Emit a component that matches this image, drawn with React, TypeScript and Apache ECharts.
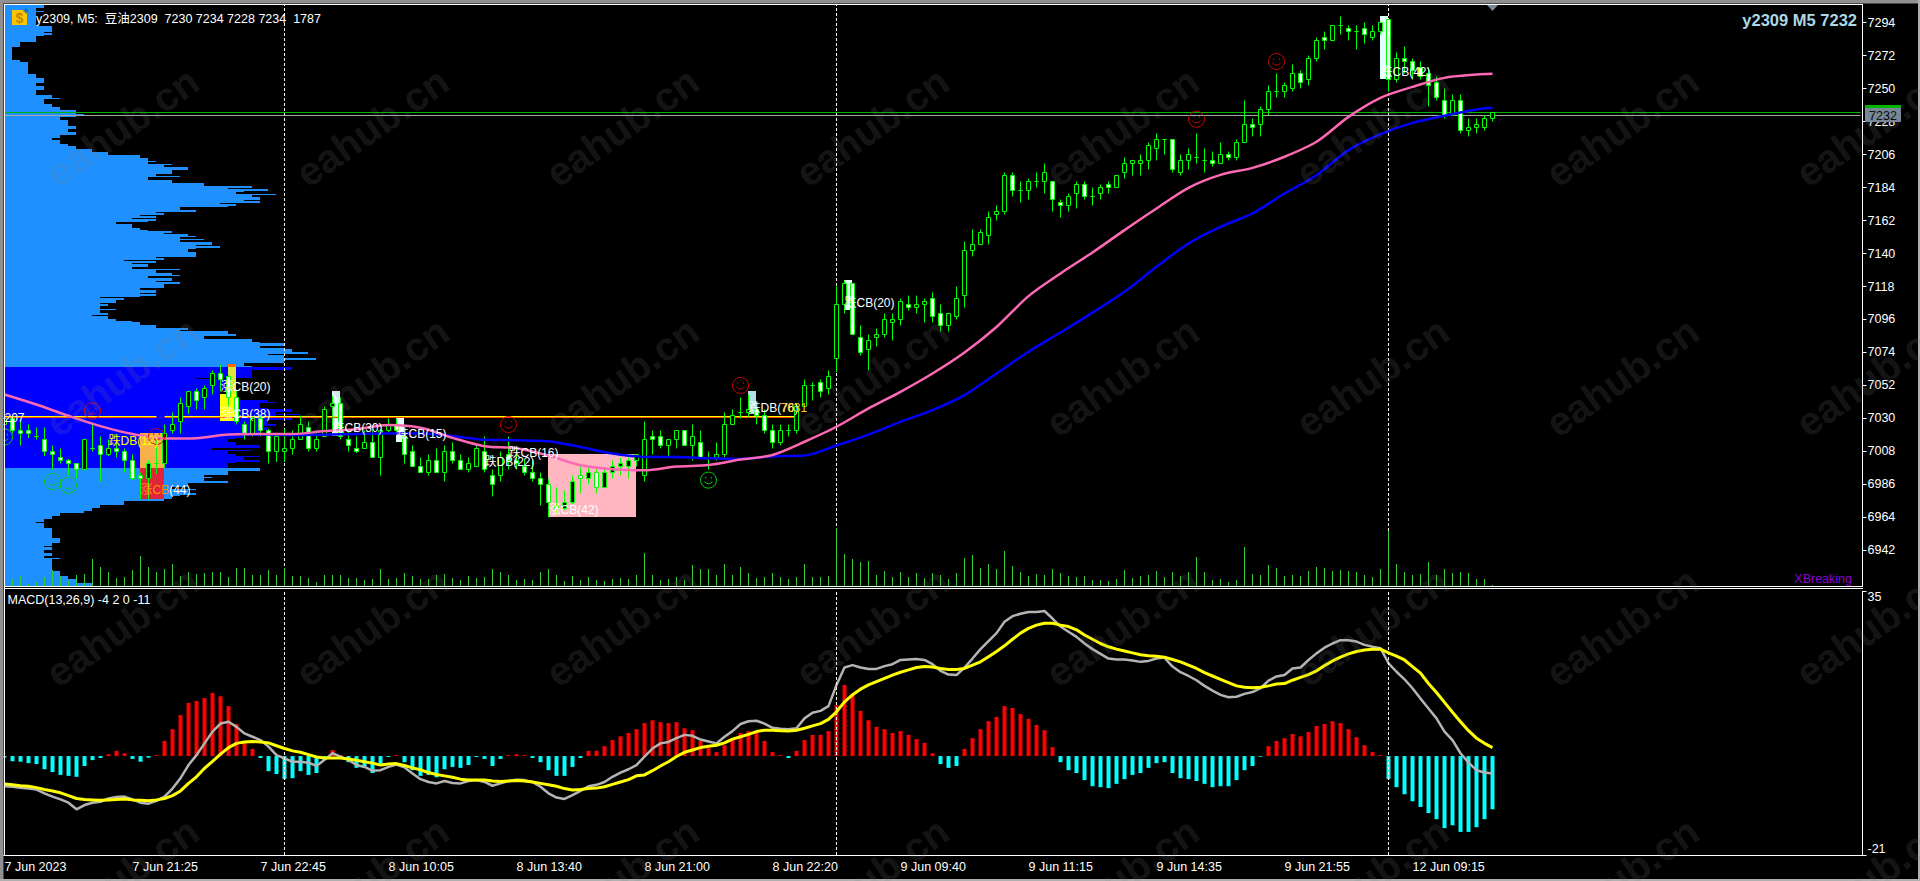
import React, { useEffect, useRef } from "react";
import * as echarts from "echarts";

const FONT = '"Liberation Sans","Noto Sans CJK SC",sans-serif';

const tickLabels: Record<number, string> = {
  0: "7 Jun 2023", 16: "7 Jun 21:25", 32: "7 Jun 22:45", 48: "8 Jun 10:05", 64: "8 Jun 13:40",
  80: "8 Jun 21:00", 96: "8 Jun 22:20", 112: "9 Jun 09:40", 128: "9 Jun 11:15", 144: "9 Jun 14:35",
  160: "9 Jun 21:55", 176: "12 Jun 09:15",
};
const SLOTS = 233;
const categories: string[] = Array.from({ length: SLOTS }, (_, i) => tickLabels[i] || "");

const priceTicks = [6942, 6964, 6986, 7008, 7030, 7052, 7074, 7096, 7118, 7140, 7162, 7184, 7206, 7228, 7250, 7272, 7294];
const macdTicks = [-21, 35];
const daySeparators = [35, 104, 173];

// open, close, low, high
const ohlc = [
  [7026,7030,7020,7034],[7030,7022,7020,7032],[7022,7020,7012,7028],[7022,7020,7017,7026],[7018,7018,7016,7024],
  [7016,7008,7005,7024],[7008,7006,6996,7012],[7004,7002,7000,7010],[7002,7000,6992,7003],[7000,6996,6990,7000],
  [6996,7016,6996,7016],[7010,7010,7008,7027],[7012,7006,6988,7018],[7006,7010,7005,7016],[7010,7008,7004,7014],
  [7008,7002,6994,7010],[7002,6990,6989,7006],[6992,6990,6976,6994],[6990,7000,6976,7002],[7000,7000,6993,7016],
  [7000,7020,6997,7026],[7022,7026,7020,7034],[7028,7040,7020,7044],[7038,7048,7033,7048],[7048,7042,7036,7050],
  [7044,7050,7036,7052],[7052,7060,7046,7062],[7060,7056,7048,7066],[7058,7044,7038,7059],[7044,7028,7026,7049],
  [7026,7020,7016,7028],[7020,7030,7018,7031],[7030,7022,7018,7032],[7022,7008,7000,7023],[7008,7018,7001,7020],
  [7008,7010,7001,7023],[7010,7016,7006,7022],[7016,7026,7016,7032],[7024,7010,7008,7028],[7010,7016,7008,7020],
  [7018,7036,7018,7038],[7038,7040,7021,7045],[7040,7018,7016,7044],[7016,7012,7008,7022],[7010,7008,7007,7018],
  [7010,7014,7010,7022],[7014,7004,7004,7022],[7004,7022,6992,7023],[7022,7026,7021,7030],[7026,7022,7021,7030],
  [7018,7006,7000,7022],[7008,6998,6998,7012],[6998,6994,6994,7004],[6994,7002,6992,7006],[7002,6994,6994,7010],
  [6994,7008,6988,7012],[7008,7002,7000,7014],[7002,6996,6996,7006],[6996,7000,6994,7004],[6998,7010,6998,7012],
  [7008,6996,6994,7018],[6992,6986,6978,6996],[6992,7004,6988,7008],[7006,7002,6996,7018],[7002,7000,6996,7009],
  [6998,6994,6992,7003],[6994,6990,6988,7002],[6990,6986,6972,6994],[6986,6974,6964,6990],[6972,6970,6966,6984],
  [6970,6974,6969,6982],[6974,6988,6973,6992],[6992,6990,6980,6998],[6990,6994,6986,6998],[6994,6984,6980,6996],
  [6984,6994,6984,6996],[6994,6998,6990,7002],[6998,7000,6992,7004],[6998,7002,6990,7004],[7002,7006,6998,7006],
  [6992,7016,6988,7028],[7018,7016,7006,7022],[7018,7012,7010,7022],[7012,7016,7004,7016],[7016,7022,7010,7022],
  [7022,7012,7012,7022],[7012,7018,7002,7026],[7014,7004,7004,7022],[7004,7004,6996,7008],[7004,7006,7002,7014],
  [7006,7026,7004,7034],[7026,7032,7026,7036],[7034,7034,7030,7044],[7034,7036,7031,7046],[7036,7032,7026,7040],
  [7032,7022,7020,7036],[7022,7014,7010,7026],[7014,7022,7012,7026],[7022,7022,7018,7026],[7022,7038,7020,7040],
  [7038,7052,7038,7056],[7052,7052,7042,7054],[7054,7048,7044,7056],[7050,7058,7046,7062],[7070,7106,7061,7118],
  [7106,7120,7100,7122],[7120,7086,7086,7120],[7084,7074,7072,7092],[7076,7082,7062,7086],[7084,7086,7078,7090],
  [7086,7096,7084,7100],[7094,7096,7082,7100],[7096,7108,7092,7110],[7106,7104,7102,7112],[7104,7106,7100,7112],
  [7106,7108,7094,7110],[7110,7098,7094,7114],[7100,7092,7088,7106],[7092,7100,7088,7100],[7098,7110,7096,7118],
  [7112,7142,7104,7148],[7142,7146,7138,7156],[7146,7154,7146,7156],[7152,7164,7146,7168],[7166,7168,7162,7172],
  [7168,7192,7166,7194],[7192,7182,7178,7194],[7182,7182,7174,7188],[7182,7188,7176,7190],[7188,7188,7184,7194],
  [7188,7194,7180,7200],[7188,7176,7168,7188],[7174,7172,7164,7176],[7172,7178,7168,7180],[7180,7186,7170,7188],
  [7186,7178,7176,7188],[7178,7178,7172,7184],[7180,7184,7176,7186],[7186,7184,7180,7188],[7184,7192,7184,7192],
  [7194,7200,7190,7204],[7200,7202,7192,7202],[7200,7202,7192,7206],[7202,7212,7196,7214],[7210,7216,7202,7220],
  [7216,7216,7206,7216],[7216,7196,7194,7216],[7194,7202,7192,7206],[7202,7206,7196,7210],[7204,7204,7200,7220],
  [7202,7202,7194,7210],[7202,7200,7198,7208],[7200,7206,7200,7214],[7206,7204,7202,7208],[7204,7214,7202,7216],
  [7214,7226,7214,7242],[7226,7224,7218,7230],[7226,7236,7218,7238],[7236,7248,7232,7252],[7248,7248,7244,7260],
  [7248,7252,7244,7254],[7250,7260,7248,7266],[7260,7254,7250,7262],[7256,7270,7252,7272],[7270,7282,7268,7284],
  [7284,7282,7276,7288],[7282,7292,7282,7292],[7292,7292,7286,7298],[7290,7288,7282,7292],[7288,7288,7276,7292],
  [7290,7286,7280,7294],[7284,7288,7282,7292],[7288,7294,7286,7294],[7296,7256,7248,7296],[7256,7270,7254,7274],
  [7270,7268,7260,7278],[7268,7262,7256,7270],[7264,7258,7256,7268],[7260,7252,7238,7264],[7254,7244,7242,7258],
  [7242,7232,7230,7250],[7232,7242,7232,7246],[7242,7222,7220,7246],[7222,7224,7218,7230],[7224,7226,7220,7230],
  [7224,7230,7222,7232],[7230,7234,7228,7234],
];

// bar heights of the tick-volume pane, unscaled
const volumes = [
  3,7,10,2,4,9,16,10,6,11,12,27,19,14,8,9,16,30,19,14,
  17,22,10,14,12,13,14,14,9,18,18,11,11,16,11,18,10,10,8,4,
  11,11,11,8,8,6,7,17,7,8,13,10,7,7,11,12,8,6,10,8,
  9,17,14,11,6,7,6,14,17,11,5,10,6,9,6,5,7,8,7,11,
  33,11,6,7,9,6,21,17,17,11,22,11,19,13,8,9,13,9,7,9,
  22,9,9,10,58,32,27,24,25,11,15,9,14,9,13,8,13,11,7,13,
  28,31,18,22,17,35,20,14,10,12,11,17,13,10,9,10,6,6,5,7,
  16,8,10,11,15,9,14,10,14,29,14,6,7,4,6,39,12,11,21,18,
  10,11,10,15,19,18,15,16,15,14,11,9,17,55,22,14,11,12,24,11,
  17,13,14,13,7,7,1,
];

const macdHist = [
  -0.3,-1.1,-1.2,-1.5,-1.7,-2.8,-3.4,-4.0,-4.2,-4.4,
  -2.1,-0.85,-0.4,0.4,1.1,0.6,-0.6,-1.2,-0.35,0.2,
  3.2,5.7,8.7,11.3,11.7,12.3,13.4,12.7,10.6,6.8,
  3.0,1.5,-0.4,-3.2,-3.8,-4.9,-4.7,-3.2,-4.0,-3.6,
  -0.85,1.3,0.2,-1.3,-2.5,-2.5,-3.6,-1.9,-0.2,0.2,
  -1.3,-3.0,-4.2,-4.0,-4.5,-2.8,-2.3,-2.5,-1.9,-0.2,
  -0.6,-2.1,-0.6,0.2,0.4,0.2,-0.4,-1.3,-3.0,-4.2,
  -4.2,-2.3,-0.4,1.1,1.1,2.1,3.4,4.2,4.9,5.7,
  7.0,7.6,7.2,7.0,7.2,5.9,5.5,3.2,1.7,0.85,
  2.3,3.8,4.9,5.3,4.9,3.2,0.85,0.2,-0.4,1.1,
  3.4,4.5,4.5,5.3,10.8,15.1,13.2,9.6,7.6,6.2,
  5.7,4.9,5.3,4.5,3.6,2.8,0.6,-1.7,-2.5,-2.1,
  1.5,3.8,5.7,7.4,8.3,10.6,10.2,8.9,7.9,6.6,
  5.5,1.9,-1.3,-3.0,-3.6,-5.1,-6.4,-6.6,-6.8,-5.9,
  -4.9,-4.0,-3.6,-2.5,-1.5,-1.3,-3.6,-4.7,-4.9,-5.3,
  -5.9,-6.6,-6.4,-6.4,-5.1,-3.0,-2.1,-0.15,2.1,3.2,
  3.8,4.7,4.2,5.1,6.4,6.8,7.4,7.0,5.7,4.0,
  2.3,0.85,0.2,-4.9,-6.6,-8.1,-9.6,-10.8,-12.1,-13.4,
  -15.3,-14.7,-16.1,-16.1,-15.1,-13.4,-11.3,
];

const macdLine = [
  -6.4,-6.5,-6.7,-6.9,-7.1,-7.9,-8.6,-9.2,-9.9,-11.3,
  -10.4,-9.9,-9.7,-9.0,-8.7,-8.6,-9.2,-9.9,-10.1,-9.5,
  -8.6,-6.9,-4.7,-1.9,0.2,2.7,5.2,6.9,7.3,6.2,
  4.8,4.1,3.4,2.0,0.2,-0.5,-1.2,-1.2,-1.4,-2.1,
  -0.8,0.6,-0.1,-0.8,-1.9,-2.3,-3.1,-3.0,-2.3,-1.8,
  -2.4,-3.7,-4.9,-5.5,-5.8,-5.3,-5.7,-5.8,-5.3,-5.1,
  -5.5,-6.3,-5.8,-5.3,-5.0,-5.1,-5.5,-6.5,-7.9,-8.8,
  -9.1,-8.3,-7.4,-6.4,-6.1,-5.5,-4.4,-3.5,-2.8,-1.9,
  -0.1,1.6,2.7,3.0,3.8,4.5,4.3,3.5,3.1,2.7,
  4.1,5.3,6.8,7.4,7.5,6.9,6.0,5.8,5.7,5.9,
  8.0,9.2,9.6,10.6,15.1,18.8,19.3,18.8,18.5,18.5,
  19.1,19.5,20.4,20.5,20.6,20.4,19.5,18.1,17.3,17.2,
  18.8,20.7,22.7,24.4,26.1,28.5,29.7,30.2,30.6,30.6,
  30.8,29.2,27.5,26.4,25.3,23.9,22.7,21.7,20.7,20.5,
  20.5,20.3,20.0,20.2,20.7,20.9,19.0,17.8,17.0,16.1,
  14.9,13.9,13.0,12.5,12.6,13.2,13.6,14.4,16.0,16.9,
  17.2,18.6,18.8,20.4,21.8,23.0,23.9,24.6,24.6,24.3,
  23.6,23.2,22.9,19.7,17.9,16.3,14.4,12.2,10.1,8.0,
  5.2,3.4,0.6,-1.4,-3.0,-3.5,-3.7,
];

const macdSignal = [
  -5.9,-6.1,-6.3,-6.4,-6.7,-7.1,-7.4,-7.8,-8.4,-9.0,
  -9.2,-9.3,-9.4,-9.3,-9.2,-9.1,-9.3,-9.4,-9.5,-9.3,
  -9.0,-8.4,-7.4,-5.8,-4.4,-2.6,-1.1,0.4,1.8,2.7,
  3.0,3.1,3.0,2.8,2.2,1.6,1.1,0.8,0.3,-0.2,
  -0.4,-0.4,-0.4,-0.6,-0.9,-1.2,-1.5,-1.9,-1.7,-1.6,
  -2.0,-2.5,-2.9,-3.5,-3.9,-4.2,-4.5,-4.9,-5.1,-5.1,
  -5.1,-5.3,-5.4,-5.3,-5.2,-5.3,-5.5,-5.8,-6.1,-6.4,
  -6.9,-7.2,-7.1,-6.9,-6.8,-6.5,-6.0,-5.5,-5.0,-4.2,
  -4.0,-3.1,-2.1,-1.2,-0.1,0.8,1.3,1.8,2.1,2.3,
  2.8,3.6,4.1,4.6,5.2,5.5,5.5,5.4,5.3,5.5,
  5.9,6.4,6.9,7.8,9.4,11.5,13.0,14.2,15.1,15.8,
  16.5,17.2,17.8,18.3,18.8,19.0,18.9,18.6,18.4,18.4,
  18.6,19.3,20.0,21.1,22.2,23.4,24.8,26.1,27.1,27.8,
  28.2,28.2,27.8,27.5,26.8,25.7,24.8,23.9,23.2,22.7,
  22.3,21.9,21.5,21.3,21.2,21.0,20.5,20.0,19.3,18.6,
  17.7,17.0,16.3,15.6,14.9,14.6,14.5,14.6,14.9,15.3,
  15.4,16.1,16.7,17.3,18.1,19.2,20.2,21.0,21.7,22.2,
  22.5,22.7,22.7,21.9,21.2,20.4,19.0,17.6,15.4,13.5,
  11.4,9.3,7.3,5.4,3.8,2.7,1.8,
];

// [bar, price] read every few bars
const pinkMA = [
  [0,7046],[4,7039.3],[8,7031.8],[12,7024.9],[16,7019.6],[20,7016.7],[24,7016.9],[28,7019.3],[32,7019.6],[36,7019.6],
  [40,7021.6],[44,7022.9],[48,7025.6],[52,7023.8],[56,7017.1],[60,7011.5],[64,7010.2],[68,7005.3],[72,6998.8],[76,6996.2],
  [80,6995.5],[84,6998],[88,6999],[92,7002.6],[96,7005.7],[100,7014.5],[104,7024.5],[108,7036.7],[112,7047.8],[116,7060],
  [120,7074],[124,7091],[128,7111.6],[132,7126.7],[136,7140.7],[140,7155.6],[144,7170],[148,7183.8],[152,7192.4],[156,7197.1],
  [160,7204.5],[164,7214.5],[168,7231.1],[172,7243.8],[176,7251.1],[180,7257.1],[184,7259.3],[186,7259.8],
];
const blueMA = [
  [28,7020],[36,7018.9],[48,7020],[52,7020],[58,7017],[60,7015.9],[64,7015.5],[68,7014.8],[72,7011],[76,7006.6],
  [80,7004.4],[84,7004.4],[88,7003.5],[92,7003],[96,7004.8],[100,7005.3],[104,7012],[108,7019.3],[112,7027.8],[116,7035.6],
  [120,7045.6],[124,7060],[128,7074.5],[132,7087.3],[136,7100.6],[140,7114.5],[144,7131.1],[148,7146.7],[152,7157.8],[156,7166.7],
  [160,7180],[164,7192.2],[168,7208.9],[172,7219.6],[176,7227.1],[180,7231.8],[184,7236],[186,7237.1],
];

// volume profile: [top price of the run, width]; a run ends where the next one starts
const profileRuns = [
  [7306,39],[7304,31],[7302,39],[7301,31],[7292,47],[7288,39],[7287,47],[7286,39],[7285,31],[7281,15],[7278,7],[7269,15],[7268,23],
  [7260,31],[7257,39],[7254,31],[7252,39],[7249,31],[7246,47],[7244,55],[7243,39],[7240,47],[7238,55],[7236,71],[7233,79],[7232,71],
  [7231,55],[7229,63],[7225,71],[7223,63],[7221,71],[7219,55],[7217,47],[7216,55],[7213,63],[7212,71],[7210,87],[7208,103],[7206,135],
  [7204,143],[7202,151],[7201,143],[7200,167],[7199,159],[7198,183],[7196,167],[7193,151],[7192,175],[7191,143],[7189,167],[7187,199],
  [7185,247],[7184,223],[7183,263],[7182,239],[7181,231],[7180,271],[7179,247],[7178,255],[7176,239],[7175,255],[7174,215],[7173,231],
  [7172,223],[7171,175],[7169,191],[7168,151],[7167,159],[7166,135],[7165,151],[7164,127],[7163,151],[7162,143],[7161,111],[7160,127],
  [7157,135],[7156,143],[7155,167],[7154,159],[7153,183],[7152,191],[7151,175],[7150,199],[7149,175],[7148,207],[7146,191],[7145,215],
  [7144,191],[7143,183],[7141,191],[7138,151],[7137,159],[7136,119],[7135,151],[7134,127],[7133,143],[7131,127],[7130,175],[7129,151],
  [7127,167],[7126,175],[7125,143],[7124,167],[7122,151],[7121,175],[7120,159],[7117,135],[7116,151],[7114,135],[7113,151],[7112,135],
  [7111,95],[7110,119],[7109,111],[7107,95],[7106,103],[7105,95],[7103,111],[7102,95],[7100,103],[7099,87],[7098,103],[7096,111],
  [7095,127],[7094,135],[7092,151],[7090,183],[7089,175],[7088,223],[7086,231],[7085,199],[7083,247],[7081,255],[7080,279],[7078,255],
  [7077,279],[7076,287],[7074,303],[7073,263],[7072,279],[7070,311],[7069,279],[7067,239],[7065,247],[7064,287],[7062,247],[7057,191],
  [7056,231],[7054,223],[7053,231],[7052,223],[7049,215],[7046,223],[7042,263],[7041,271],[7040,255],[7037,263],[7036,287],[7034,271],
  [7033,295],[7032,271],[7030,287],[7029,263],[7026,271],[7025,255],[7024,263],[7022,255],[7020,263],[7018,239],[7017,231],[7016,223],
  [7014,231],[7012,255],[7010,207],[7009,247],[7008,223],[7006,231],[7005,255],[7004,239],[7002,255],[7001,231],[7000,223],[6997,255],
  [6995,223],[6992,199],[6991,207],[6990,199],[6988,223],[6987,183],[6984,167],[6983,191],[6982,183],[6980,191],[6979,175],[6978,167],
  [6976,159],[6975,119],[6972,95],[6970,87],[6968,79],[6967,55],[6965,47],[6963,39],[6961,31],[6960,39],[6957,47],[6950,55],[6947,47],
  [6945,39],[6944,47],[6942,39],[6940,47],[6938,39],[6937,55],[6936,47],[6928,55],[6925,63],[6923,71],[6920,87],
];
const profileBottom = 6918;
const valueAreaHigh = 7064;
const valueAreaLow = 6997;

// boxes: [first bar, top price, last bar, bottom price]
const boxes = [
  [17,7020.2,20,6997],[17,6997,20,6976.2],[27,7046.2,29,7028.4],[28,7066.2,29,7046.2],[28,7066.2,29,7064],
  [41,7048.2,42,7018.2],[49,7030.2,50,7014.2],[93,7048.2,94,7032.9],[68,7006.2,79,6964.2],[172,7298.2,173,7256.2],[105,7122.2,106,7102.2],
];
const boxColors = ["#f7b04a","#e0243c","#ffff00","#dce83c","#ff6a00","#e0ffff","#e0ffff","#b0e0e6","#ffb6c1","#e0ffff","#e0ffff"];

const notes = ["跌DB(12)","涨CB(44)","涨CB(20)","涨CB(38)","跌CB(30)","跌CB(15)","跌CB(16)","跌DB(22)","涨CB(42)","跌DB(76)","7031","跌CB(42)","跌CB(20)","207"];
const noteBars = [13,17,27,27,41,49,63,60,68,93,97,172,105,0];
const notePrices = [7015,6982,7051,7033,7023.6,7019.5,7006.9,7000.9,6969,7037,7037,7261,7107,7030];
const noteColors = ["#ffff00","#ffffff","#ffffff","#ffffff","#ffffff","#ffffff","#ffffff","#ffffff","#ffffff","#ffffff","#ffc800","#ffffff","#ffffff","#ffffff"];

const redSmiles = [[11,7035],[19,7018],[63,7026],[92,7052],[149,7229.5],[159,7268]];
const greenSmiles = [[0,7017.7],[6,6988],[8,6985.5],[88,6988.9]];

const headerText = "y2309, M5:  豆油2309  7230 7234 7228 7234  1787";
const macdText = "MACD(13,26,9) -4 2 0 -11";
const cornerText = "y2309 M5 7232";
const lastPrice = 7232;
const askPrice = 7234;
const levelYellow = 7031.33;
const levelRed = 7030.67;
const priceMin = 6918.33;
const priceMax = 7305.67;

const SMILE = "path://M12 2A10 10 0 1 1 11.99 2Z M8.5 8V10 M15.5 8V10 M7 14Q12 19 17 14";

const wmColumns = [122, 372, 622, 872, 1122, 1372, 1622, 1872];
const wmRows = [127, 377, 627, 877];

function buildOption() {
  const lab = { color: "#fff", fontFamily: FONT, fontSize: 12.5 };
  const hiddenCat = (gridIndex: number) => ({
    type: "category", gridIndex, data: categories, show: false,
  });
  const rect = (x: number, y: number, width: number, height: number, fill: string, z = 100) => ({
    type: "rect", silent: true, z, shape: { x, y, width, height }, style: { fill },
  });
  const text = (x: number, y: number, t: string, fill: string, font: string, align = "left") => ({
    type: "text", silent: true, z: 110, x, y,
    style: { text: t, fill, font, textAlign: align, textVerticalAlign: "middle" },
  });

  const watermarks: any[] = [];
  wmRows.forEach((y) => wmColumns.forEach((x) => {
    watermarks.push({
      type: "text", silent: true, z: 120, x, y, rotation: (35 * Math.PI) / 180,
      style: { text: "eahub.cn", fill: "rgba(128,128,128,0.18)", font: `bold 40px ${FONT}`, textAlign: "center", textVerticalAlign: "middle" },
    });
  }));

  return {
    animation: false,
    backgroundColor: "#000",
    grid: [
      { left: 0.5, top: 5, width: 1864, height: 581, outerBoundsMode: "none" },
      { left: 0.5, top: 591.2, width: 1864, height: 263.8, outerBoundsMode: "none" },
      { left: 0.5, top: 486, width: 1864, height: 100, outerBoundsMode: "none" },
      { left: 5, top: 5, width: 1858, height: 581, outerBoundsMode: "none" },
    ],
    xAxis: [
      hiddenCat(0),
      {
        type: "category", gridIndex: 1, data: categories,
        axisLine: { onZero: false, lineStyle: { color: "#fff", width: 1 } },
        axisTick: { alignWithLabel: true, length: 5, lineStyle: { color: "#fff" }, interval: (i: number) => !!tickLabels[i] },
        axisLabel: { ...lab, margin: 6, align: "left", interval: (i: number) => !!tickLabels[i] },
      },
      hiddenCat(2),
      { type: "value", gridIndex: 3, min: 0, max: 1858, show: false },
    ],
    yAxis: [
      {
        type: "value", gridIndex: 0, position: "right", offset: -2, min: priceMin, max: priceMax, scale: true,
        splitLine: { show: false },
        axisLine: { show: true, lineStyle: { color: "#fff" } },
        axisTick: { show: true, length: 4, lineStyle: { color: "#fff" }, customValues: priceTicks },
        axisLabel: { ...lab, margin: 5, customValues: priceTicks, formatter: (v: number) => String(v) },
      },
      {
        type: "value", gridIndex: 1, position: "right", offset: -2, min: -21, max: 35,
        splitLine: { show: false },
        axisLine: { show: true, lineStyle: { color: "#fff" } },
        axisTick: { show: true, length: 4, lineStyle: { color: "#fff" }, customValues: macdTicks },
        axisLabel: { ...lab, margin: 5, customValues: macdTicks, verticalAlignMinLabel: "bottom", verticalAlignMaxLabel: "top", formatter: (v: number) => String(v) },
      },
      { type: "value", gridIndex: 2, min: 0, max: 100, show: false, splitLine: { show: false } },
      { type: "value", gridIndex: 3, min: priceMin, max: priceMax, show: false, splitLine: { show: false } },
    ],
    graphic: {
      elements: [
        rect(0, 0, 1920, 3.5, "#909090"),
        rect(0, 0, 3.5, 881, "#909090"),
        rect(0, 879, 1920, 2, "#b0b0b0"),
        rect(1918, 0, 2, 881, "#b0b0b0"),
        rect(4, 4, 1859, 1, "#ffffff"),
        rect(4, 4, 1, 852, "#ffffff"),
        rect(4, 586, 1859, 1, "#ffffff"),
        rect(4, 588, 1859, 1, "#ffffff"),
        rect(12, 10, 15, 15, "#ffc400"),
        text(19.5, 18, "$", "#c08a00", `bold 14px ${FONT}`, "center"),
        rect(23.5, 10, 5, 1.5, "#0a6cc8"),
        rect(25.2, 8, 1.5, 5.5, "#0a6cc8"),
        {
          type: "polygon", silent: true, z: 100,
          shape: { points: [[1487, 5], [1498, 5], [1492.5, 11]] },
          style: { fill: "#778899" },
        },
        rect(1865, 105, 36, 3, "#00b400"),
        rect(1865, 108, 36, 14, "#778899"),
        text(1883, 115.5, String(lastPrice), "#000000", `12.5px ${FONT}`, "center"),
        text(36, 19, headerText, "#ffffff", `12.5px ${FONT}`),
        text(7.5, 599.5, macdText, "#ffffff", `12.5px ${FONT}`),
        text(1857, 20, cornerText, "#add8e6", `bold 16.5px ${FONT}`, "right"),
        text(1852, 579, "XBreaking", "#8a00d4", `12.5px ${FONT}`, "right"),
        ...watermarks,
      ],
    },
    series: [
      {
        name: "profile", type: "custom", coordinateSystem: "cartesian2d", xAxisIndex: 3, yAxisIndex: 3, z: 1, silent: true,
        data: profileRuns.map((r, i) => [r[1], r[0], i + 1 < profileRuns.length ? profileRuns[i + 1][0] : profileBottom]),
        renderItem: (_: any, api: any) => {
          const top = api.coord([api.value(0), api.value(1)]);
          const bottom = api.coord([0, api.value(2)]);
          const mid = (api.value(1) + api.value(2)) / 2;
          const inArea = mid <= valueAreaHigh && mid >= valueAreaLow;
          const y0 = Math.round(top[1]);
          const y1 = Math.round(bottom[1]);
          return {
            type: "rect",
            shape: { x: bottom[0], y: y0, width: top[0] - bottom[0], height: y1 - y0 },
            style: { fill: inArea ? "#0000ff" : "#1e90ff" },
          };
        },
      },
      {
        name: "boxes", type: "custom", coordinateSystem: "cartesian2d", xAxisIndex: 0, yAxisIndex: 0, z: 2, silent: true,
        data: boxes,
        renderItem: (params: any, api: any) => {
          const a = api.coord([api.value(0), api.value(1)]);
          const b = api.coord([api.value(2), api.value(3)]);
          return {
            type: "rect",
            shape: { x: a[0] - 0.5, y: Math.round(a[1]), width: b[0] - a[0], height: Math.round(b[1]) - Math.round(a[1]) },
            style: { fill: boxColors[params.dataIndex] },
          };
        },
      },
      {
        name: "volume", type: "bar", xAxisIndex: 2, yAxisIndex: 2, barWidth: 1, z: 3, silent: true,
        data: volumes, itemStyle: { color: "#32cd32" },
      },
      {
        name: "candles", type: "candlestick", xAxisIndex: 0, yAxisIndex: 0, barWidth: 4, z: 4, silent: true,
        data: ohlc,
        itemStyle: {
          color: "#000000", color0: "#ffffff", borderColor: "#00ff00", borderColor0: "#00ff00",
          borderColorDoji: "#00ff00", borderWidth: 1,
        },
        markLine: {
          silent: true, symbol: "none", animation: false, label: { show: false }, z: 3,
          data: [
            ...daySeparators.map((b) => ({ xAxis: b, lineStyle: { color: "#ffffff", width: 1, type: [3, 2] } })),
            [{ coord: [0, askPrice], lineStyle: { color: "#00b400", width: 1, type: "solid" } }, { coord: [232, askPrice] }],
            [{ coord: [0, lastPrice], lineStyle: { color: "#a8a8a8", width: 1, type: "solid" } }, { coord: [232, lastPrice] }],
            [{ coord: [0, levelYellow], lineStyle: { color: "#ffff00", width: 1, type: "solid" } }, { coord: [19, levelYellow] }],
            [{ coord: [0, levelRed], lineStyle: { color: "#ff4500", width: 1, type: "solid" } }, { coord: [19, levelRed] }],
            [{ coord: [20, levelYellow], lineStyle: { color: "#ffff00", width: 1, type: "solid" } }, { coord: [99, levelYellow] }],
            [{ coord: [20, levelRed], lineStyle: { color: "#ff4500", width: 1, type: "solid" } }, { coord: [99, levelRed] }],
          ],
        },
      },
      {
        name: "MA slow", type: "line", xAxisIndex: 0, yAxisIndex: 0, z: 5, silent: true, symbol: "none", smooth: 0.3,
        data: blueMA, lineStyle: { color: "#0000ff", width: 2.5 },
      },
      {
        name: "MA fast", type: "line", xAxisIndex: 0, yAxisIndex: 0, z: 5, silent: true, symbol: "none", smooth: 0.3,
        data: pinkMA, lineStyle: { color: "#ff69b4", width: 2.5 },
      },
      {
        name: "smile red", type: "scatter", xAxisIndex: 0, yAxisIndex: 0, z: 6, silent: true, symbol: SMILE, symbolSize: 16,
        data: redSmiles, itemStyle: { color: "rgba(0,0,0,0)", borderColor: "#d80000", borderWidth: 1, opacity: 1 },
      },
      {
        name: "smile green", type: "scatter", xAxisIndex: 0, yAxisIndex: 0, z: 6, silent: true, symbol: SMILE, symbolSize: 16,
        data: greenSmiles, itemStyle: { color: "rgba(0,0,0,0)", borderColor: "#00d800", borderWidth: 1, opacity: 1 },
      },
      {
        name: "notes", type: "custom", coordinateSystem: "cartesian2d", xAxisIndex: 0, yAxisIndex: 0, z: 7, silent: true,
        data: noteBars.map((b, i) => [b, notePrices[i]]),
        renderItem: (params: any, api: any) => {
          const p = api.coord([api.value(0), api.value(1)]);
          const t = notes[params.dataIndex];
          const isSplit = t === "涨CB(44)";
          return {
            type: "text", x: p[0], y: p[1],
            style: isSplit
              ? {
                  text: "{a|涨CB}{b|(44)}", font: `12px ${FONT}`, textAlign: "left", textVerticalAlign: "middle",
                  rich: { a: { fill: "#ff8c00", font: `12px ${FONT}` }, b: { fill: "#ffffff", font: `12px ${FONT}` } },
                }
              : { text: t, fill: noteColors[params.dataIndex], font: `12px ${FONT}`, textAlign: "left", textVerticalAlign: "middle" },
          };
        },
      },
      {
        name: "MACD hist", type: "bar", xAxisIndex: 1, yAxisIndex: 1, barWidth: 4, z: 3, silent: true,
        data: macdHist,
        itemStyle: { color: (p: any) => (p.value >= 0 ? "#ff0000" : "#00ffff") },
      },
      {
        name: "MACD", type: "line", xAxisIndex: 1, yAxisIndex: 1, z: 4, silent: true, symbol: "none",
        data: macdLine, lineStyle: { color: "#b4b4b4", width: 2.5 },
        markLine: {
          silent: true, symbol: "none", animation: false, label: { show: false },
          data: daySeparators.map((b) => ({ xAxis: b, lineStyle: { color: "#ffffff", width: 1, type: [3, 2] } })),
        },
      },
      {
        name: "Signal", type: "line", xAxisIndex: 1, yAxisIndex: 1, z: 5, silent: true, symbol: "none",
        data: macdSignal, lineStyle: { color: "#ffff00", width: 3 },
      },
    ],
  };
}

export default function App() {
  const ref = useRef<HTMLDivElement>(null);
  useEffect(() => {
    const chart = echarts.init(ref.current!, undefined, { renderer: "svg" });
    chart.setOption(buildOption() as any);
    return () => chart.dispose();
  }, []);
  return <div ref={ref} style={{ position: "fixed", left: 0, top: 0, width: 1920, height: 881, background: "#000" }} />;
}
